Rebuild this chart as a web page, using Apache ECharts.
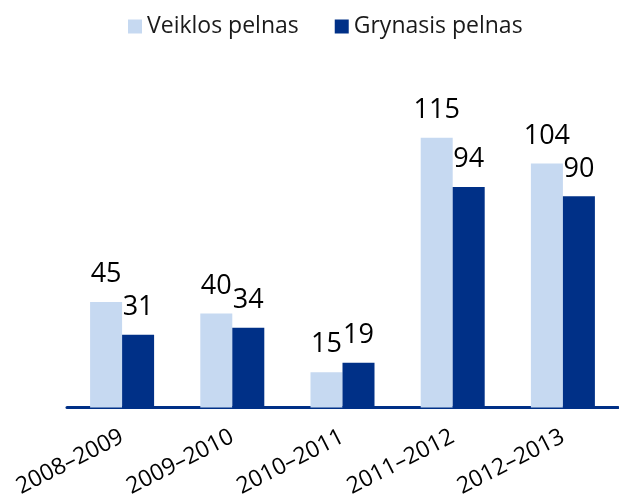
<!DOCTYPE html>
<html>
<head>
<meta charset="utf-8">
<script src="https://cdn.jsdelivr.net/npm/echarts@6/dist/echarts.min.js"></script>
<style>
	html, body { margin: 0; padding: 0; background: #fff; }
	#chart { width: 619px; height: 500px; }
</style>
</head>
<body>
<div id="chart"></div>
<script>
	const periods = ['2008–2009', '2009–2010', '2010–2011', '2011–2012', '2012–2013']
	const veiklosPelnas = [45, 40, 15, 115, 104]
	const grynasisPelnas = [31, 34, 19, 94, 90]

	const light = '#c6d9f1'
	const dark = '#003087'
	const font = '"Open Sans", "Noto Sans", sans-serif'

	let chart = echarts.init(document.getElementById('chart'))
	let option = {
		animation: false,
		textStyle: { fontFamily: font },
		legend: {
			left: 123,
			top: 10,
			itemWidth: 14,
			itemHeight: 14,
			itemGap: 36,
			icon: 'rect',
			textStyle: { fontSize: 23, color: '#1a1a1a', fontFamily: font },
			data: ['Veiklos pelnas', 'Grynasis pelnas']
		},
		grid: {
			left: 67,
			right: 1,
			top: 126,
			bottom: 91
		},
		xAxis: {
			type: 'category',
			data: periods,
			axisTick: { show: false },
			axisLine: { lineStyle: { color: dark, width: 3 } },
			axisLabel: {
				rotate: 27,
				interval: 0,
				margin: 28,
				fontSize: 23,
				color: '#000',
				fontFamily: font
			}
		},
		yAxis: {
			type: 'value',
			min: 0,
			max: 120,
			show: false,
			splitLine: { show: false }
		},
		series: [{
			name: 'Veiklos pelnas',
			type: 'bar',
			data: veiklosPelnas,
			barWidth: 32,
			barGap: '0%',
			itemStyle: { color: light },
			label: {
				show: true,
				position: 'top',
				distance: 14,
				fontSize: 27,
				color: '#000',
				fontFamily: font
			}
		}, {
			name: 'Grynasis pelnas',
			type: 'bar',
			data: grynasisPelnas,
			barWidth: 32,
			barGap: '0%',
			itemStyle: { color: dark },
			label: {
				show: true,
				position: 'top',
				distance: 14,
				fontSize: 27,
				color: '#000',
				fontFamily: font
			}
		}]
	}
	chart.setOption(option)
</script>
</body>
</html>
